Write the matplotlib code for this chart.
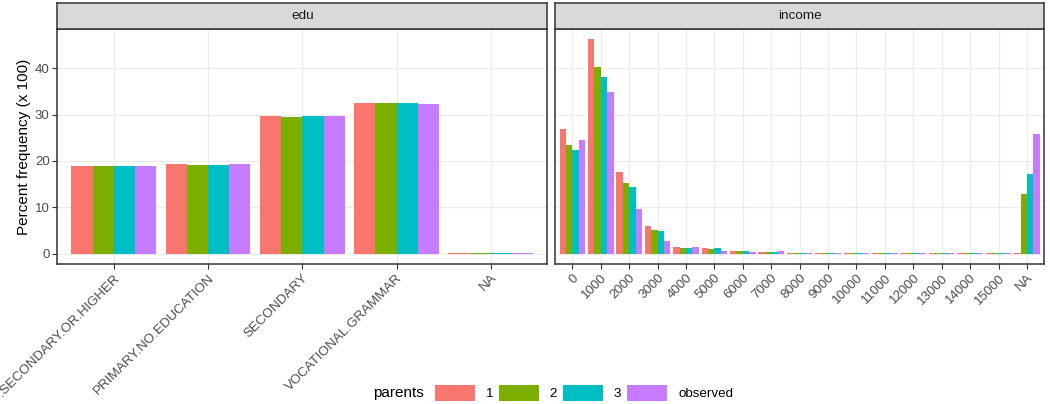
#!/usr/bin/env python3
"""Faceted bar chart: percent frequency of edu / income by parents."""
import numpy as np
import matplotlib
matplotlib.use("Agg")
import matplotlib.pyplot as plt
from matplotlib.patches import Patch

plt.rcParams["font.family"] = ["Liberation Sans", "DejaVu Sans"]

series = ["1", "2", "3", "observed"]
colors = ["#F8766D", "#7CAE00", "#00BFC4", "#C77CFF"]

edu_cats = ["POST.SECONDARY.OR.HIGHER", "PRIMARY.NO.EDUCATION", "SECONDARY",
            "VOCATIONAL.GRAMMAR", "NA"]
edu_p1 = [18.8, 19.3, 29.6, 32.5, 0.1]
edu_p2 = [18.8, 19.1, 29.4, 32.5, 0.1]
edu_p3 = [18.8, 19.1, 29.6, 32.5, 0.1]
edu_obs = [18.8, 19.3, 29.6, 32.2, 0.1]

inc_cats = ["0", "1000", "2000", "3000", "4000", "5000", "6000", "7000", "8000",
            "9000", "10000", "11000", "12000", "13000", "14000", "15000", "NA"]
inc_p1 = [26.8, 46.2, 17.5, 5.9, 1.5, 1.2, 0.6, 0.4, 0.1, 0.1, 0.1, 0.1, 0.1, 0.1, 0.1, 0.1, 0.1]
inc_p2 = [23.4, 40.3, 15.2, 5.1, 1.2, 1.0, 0.6, 0.4, 0.1, 0.1, 0.1, 0.1, 0.1, 0.1, 0.1, 0.1, 12.9]
inc_p3 = [22.3, 38.1, 14.4, 4.9, 1.1, 1.1, 0.6, 0.4, 0.1, 0.1, 0.1, 0.1, 0.1, 0.1, 0.1, 0.1, 17.1]
inc_obs = [24.6, 34.9, 9.6, 2.8, 1.4, 0.6, 0.4, 0.5, 0.1, 0.1, 0.1, 0.1, 0.1, 0.1, 0.1, 0.1, 25.7]

GRID = "#EBEBEB"
BORDER = "#333333"
TICKTXT = "#4D4D4D"


def panel(fig, rect, title, cats, vals, show_y):
    ax = fig.add_axes(rect)
    x = np.arange(len(cats))
    w = 0.9 / len(vals)
    for i, (v, c) in enumerate(zip(vals, colors)):
        ax.bar(x - 0.45 + w * (i + 0.5), v, width=w, color=c, linewidth=0, zorder=3)
    ax.set_xlim(-0.6, len(cats) - 0.4)
    ax.set_ylim(-2.31, 48.51)
    ax.set_xticks(x)
    ax.set_xticklabels(cats, rotation=45, ha="right", va="top",
                       rotation_mode="anchor", fontsize=9.6, color=TICKTXT)
    ax.set_yticks([0, 10, 20, 30, 40])
    ax.grid(True, color=GRID, linewidth=0.9, zorder=0)
    ax.set_axisbelow(True)
    ax.tick_params(length=3.5, width=0.8, color=BORDER, pad=2,
                   labelcolor=TICKTXT)
    ax.tick_params(axis="y", labelsize=9.5)
    if not show_y:
        ax.tick_params(axis="y", length=0, labelleft=False)
    for s in ax.spines.values():
        s.set_color(BORDER)
        s.set_linewidth(1.1)
    # facet strip
    l, b, wd, h = rect
    st = fig.add_axes([l, b + h, wd, 25.4 / 404])
    st.set_facecolor("#D9D9D9")
    st.set_xticks([])
    st.set_yticks([])
    for s in st.spines.values():
        s.set_color(BORDER)
        s.set_linewidth(1.1)
    st.text(0.5, 0.5, title, ha="center", va="center", fontsize=9.7,
            color="#1A1A1A", transform=st.transAxes)
    return ax


def main():
    fig = plt.figure(figsize=(10.5, 4.04), dpi=100)
    bottom = 1 - 264.3 / 404
    height = (264.3 - 28.7) / 404
    ax1 = panel(fig, [57.3 / 1050, bottom, 490 / 1050, height], "edu",
                edu_cats, [edu_p1, edu_p2, edu_p3, edu_obs], True)
    ax1.set_ylabel("Percent frequency (x 100)", fontsize=11, color="black", labelpad=2.5)
    panel(fig, [555.3 / 1050, bottom, (1044 - 555.3) / 1050, height], "income",
          inc_cats, [inc_p1, inc_p2, inc_p3, inc_obs], False)

    handles = [Patch(facecolor=c, edgecolor="none") for c in colors]
    fig.text(373 / 1050, 1 - 393 / 404, "parents", ha="left", va="center", fontsize=11)
    fig.legend(handles, series, loc="center left", bbox_to_anchor=(435 / 1050, 1 - 393 / 404),
               ncol=4, frameon=False, fontsize=9.6, handlelength=3.0, handleheight=1.58,
               handletextpad=0.8, columnspacing=0.45, borderpad=0, borderaxespad=0)

    fig.savefig("out.png", dpi=100)
    return 0


if __name__ == "__main__":
    raise SystemExit(main())
